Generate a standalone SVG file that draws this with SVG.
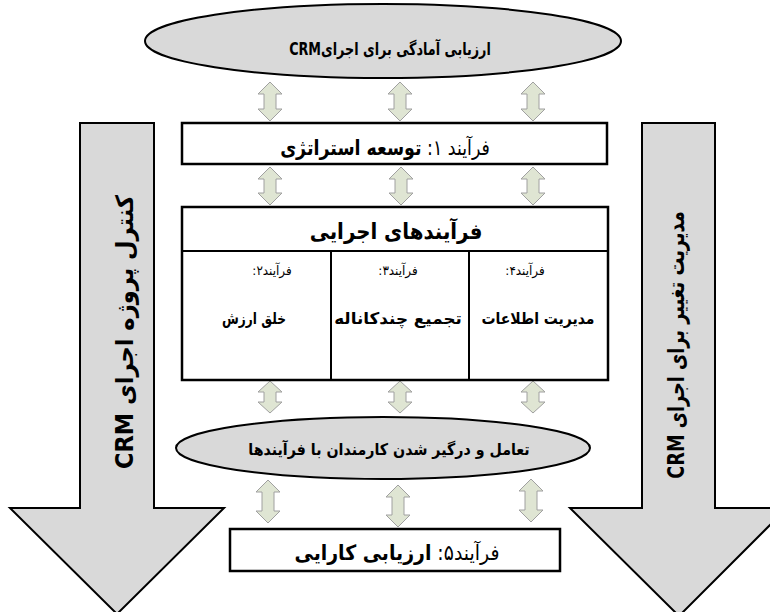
<svg xmlns="http://www.w3.org/2000/svg" width="770" height="612" viewBox="0 0 770 612">
<defs>
<style>
.shape{fill:#d9d9d9;stroke:#000;stroke-width:2}
.box{fill:#fff;stroke:#000;stroke-width:2.5}
.t{font-family:"DejaVu Sans",sans-serif;fill:#000;direction:rtl;text-anchor:middle}
.b{font-weight:bold}
.dbl{fill:#dfe5d3;stroke:#a0a0a0;stroke-width:1}
</style>
</defs>
<rect width="770" height="612" fill="#fff"/>

<g id="left-arrow">
<path class="shape" d="M80,123 L154,123 L154,508 L224,508 L117,614 L10,508 L80,508 Z"/>
<text class="t b" font-size="24" transform="translate(133,332) rotate(-90) scale(0.94,1)">کنترل پروژه اجرای CRM</text>
</g>

<g id="right-arrow">
<path class="shape" d="M642,123 L715,123 L715,508 L787,508 L679,616 L570,508 L642,508 Z"/>
<text class="t b" font-size="23" transform="translate(684,345) rotate(-90) scale(0.77,1)">مدیریت تغییر برای اجرای CRM</text>
</g>

<g id="connectors">
<path class="dbl" d="M270,82 L282,94 L276,94 L276,109 L282,109 L270,121 L258,109 L264,109 L264,94 L258,94 Z"/>
<path class="dbl" d="M400,82 L412,94 L406,94 L406,109 L412,109 L400,121 L388,109 L394,109 L394,94 L388,94 Z"/>
<path class="dbl" d="M533,82 L545,94 L539,94 L539,109 L545,109 L533,121 L521,109 L527,109 L527,94 L521,94 Z"/>

<path class="dbl" d="M270,167 L282,179 L276,179 L276,193 L282,193 L270,205 L258,193 L264,193 L264,179 L258,179 Z"/>
<path class="dbl" d="M401,167 L413,179 L407,179 L407,193 L413,193 L401,205 L389,193 L395,193 L395,179 L389,179 Z"/>
<path class="dbl" d="M533,167 L545,179 L539,179 L539,193 L545,193 L533,205 L521,193 L527,193 L527,179 L521,179 Z"/>

<path class="dbl" d="M270,381 L282,392 L276,392 L276,402 L282,402 L270,413 L258,402 L264,402 L264,392 L258,392 Z"/>
<path class="dbl" d="M400,381 L412,392 L406,392 L406,402 L412,402 L400,413 L388,402 L394,402 L394,392 L388,392 Z"/>
<path class="dbl" d="M533,381 L545,392 L539,392 L539,402 L545,402 L533,413 L521,402 L527,402 L527,392 L521,392 Z"/>

<path class="dbl" d="M268,480 L280,492 L274,492 L274,511 L280,511 L268,523 L256,511 L262,511 L262,492 L256,492 Z"/>
<path class="dbl" d="M398,485 L410,497 L404,497 L404,515 L410,515 L398,527 L386,515 L392,515 L392,497 L386,497 Z"/>
<path class="dbl" d="M531,479 L543,491 L537,491 L537,510 L543,510 L531,522 L519,510 L525,510 L525,491 L519,491 Z"/>
</g>

<g id="readiness">
<ellipse class="shape" cx="383" cy="41" rx="238" ry="37" stroke-width="2.5"/>
<text class="t b" font-size="17" transform="translate(390,55) scale(0.75,1)">ارزیابی آمادگی برای اجرایCRM</text>
</g>

<g id="strategy">
<rect class="box" x="182" y="123" width="425" height="41"/>
<text class="t" font-size="21" transform="translate(385,155) scale(0.83,1)">فرآیند ۱: <tspan class="b">توسعه استراتژی</tspan></text>
</g>

<g id="operational">
<rect class="box" x="182" y="207" width="426" height="173"/>
<line x1="182" y1="251" x2="608" y2="251" stroke="#000" stroke-width="2"/>
<line x1="331" y1="251" x2="331" y2="380" stroke="#000" stroke-width="2"/>
<line x1="469" y1="251" x2="469" y2="380" stroke="#000" stroke-width="2"/>
<text class="t b" font-size="22" transform="translate(396,239) scale(0.9,1)">فرآیندهای اجرایی</text>
</g>

<g id="process2">
<text class="t" font-size="13" transform="translate(272,275) scale(0.92,1)">فرآیند۲:</text>
<text class="t b" font-size="16" transform="translate(254,324) scale(0.76,1)">خلق ارزش</text>
</g>
<g id="process3">
<text class="t" font-size="13" transform="translate(398,275) scale(0.92,1)">فرآیند۳:</text>
<text class="t b" font-size="16" transform="translate(398,324) scale(1.05,1)">تجمیع چندکاناله</text>
</g>
<g id="process4">
<text class="t" font-size="13" transform="translate(525,275) scale(0.92,1)">فرآیند۴:</text>
<text class="t b" font-size="16" transform="translate(538,324) scale(0.875,1)">مدیریت اطلاعات</text>
</g>

<g id="engagement">
<ellipse class="shape" cx="383" cy="448" rx="207" ry="31" stroke-width="2.5"/>
<text class="t b" font-size="16" transform="translate(389,455) scale(0.89,1)">تعامل و درگیر شدن کارمندان با فرآیندها</text>
</g>

<g id="performance">
<rect class="box" x="230" y="529" width="330" height="42"/>
<text class="t" font-size="21" transform="translate(397,560) scale(0.9,1)">فرآیند۵: <tspan class="b">ارزیابی کارایی</tspan></text>
</g>
</svg>
